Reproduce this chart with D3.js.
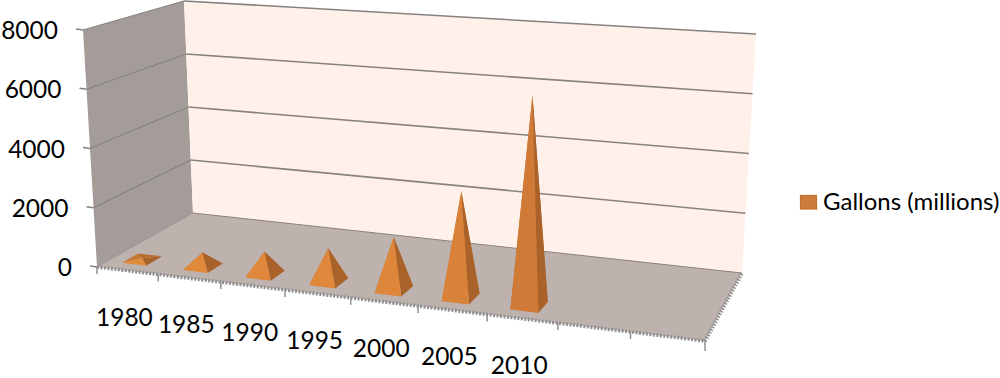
<!DOCTYPE html>
<html>
<head>
<meta charset="utf-8">
<script src="https://cdn.jsdelivr.net/npm/d3@7"></script>
<style>
  html, body { margin: 0; padding: 0; background: #fff; }
  text { font-family: Lato, "Open Sans", sans-serif; fill: #000; }
</style>
</head>
<body>
<svg id="chart" width="1000" height="378"></svg>
<script>
// ==== DATA ====
const years = ["1980", "1985", "1990", "1995", "2000", "2005", "2010"];
const gallons = [40, 480, 750, 1100, 1700, 3400, 6650];
const emptySlots = ["", " "];
const yTicks = [0, 2000, 4000, 6000, 8000];
const seriesName = "Gallons (millions)";

// ==== 3D BOX: corners of the picture, everything else is projected from them ====
const floorQuad = [[97, 267], [705, 341], [742, 273], [193, 213]];
const topQuad = [[83, 30], [715, 75], [756, 34], [184, 1]];

// square to quad homography
function quadMap(q) {
  const [[x0, y0], [x1, y1], [x2, y2], [x3, y3]] = q;
  const dx1 = x1 - x2, dx2 = x3 - x2, sx = x0 - x1 + x2 - x3;
  const dy1 = y1 - y2, dy2 = y3 - y2, sy = y0 - y1 + y2 - y3;
  const den = dx1 * dy2 - dx2 * dy1;
  const g = (sx * dy2 - dx2 * sy) / den;
  const h = (dx1 * sy - sx * dy1) / den;
  const a = x1 - x0 + g * x1, b = x3 - x0 + h * x3;
  const d = y1 - y0 + g * y1, e = y3 - y0 + h * y3;
  return (u, v) => {
    const w = g * u + h * v + 1;
    return [(a * u + b * v + x0) / w, (d * u + e * v + y0) / w];
  };
}

const floorAt = quadMap(floorQuad);
const upVectors = topQuad.map((p, i) => [p[0] - floorQuad[i][0], p[1] - floorQuad[i][1]]);

const uScale = d3.scaleBand().domain([...years, ...emptySlots]).range([0, 1])
  .paddingInner(0.6).paddingOuter(0.3).align(0.4);
const slotScale = d3.scaleBand().domain(uScale.domain()).range([0, 1]);
const hScale = d3.scaleLinear().domain([0, 8000]).range([0, 1]);
const frontColor = d3.scaleLinear().domain([0, 1700, 6650]).range(["#e08a3c", "#de863a", "#cf7a36"]);

// u along the front, d towards the back wall, h up
function project(u, d, h) {
  const a = floorAt(u, d);
  const up = [0, 1].map(k =>
    (1 - d) * ((1 - u) * upVectors[0][k] + u * upVectors[1][k]) +
    d * ((1 - u) * upVectors[3][k] + u * upVectors[2][k]));
  return [a[0] + up[0] * h, a[1] + up[1] * h];
}

const svg = d3.select("#chart");
const pts = arr => arr.map(p => p.join(",")).join(" ");
const line = d3.line();

// ==== WALLS ====
svg.append("polygon")
  .attr("points", pts([project(0, 0, 0), project(0, 1, 0), project(0, 1, 1), project(0, 0, 1)]))
  .attr("fill", "#a49c98");
svg.append("polygon")
  .attr("points", pts([project(0, 1, 0), project(1, 1, 0), project(1, 1, 1), project(0, 1, 1)]))
  .attr("fill", "#fff1ea");
svg.append("polygon")
  .attr("points", pts([project(0, 0, 0), project(1, 0, 0), project(1, 1, 0), project(0, 1, 0)]))
  .attr("fill", "#bdb2ae");

// ==== GRID ====
const gridColor = "#85827f";
yTicks.forEach(v => {
  const h = hScale(v);
  const a = project(0, 0, h), b = project(0, 1, h), c = project(1, 1, h);
  svg.append("path").attr("d", line([b, c]))
    .attr("fill", "none").attr("stroke", gridColor)
    .attr("stroke-width", v === 0 ? 1 : 1.6);
  svg.append("path").attr("d", line([a, b]))
    .attr("fill", "none").attr("stroke", gridColor)
    .attr("stroke-width", v === 0 ? 0.6 : 1.2);
  // tick on the left of the wall
  svg.append("line")
    .attr("x1", a[0] - 7).attr("y1", a[1] - 1).attr("x2", a[0]).attr("y2", a[1])
    .attr("stroke", gridColor).attr("stroke-width", 1.6);
  svg.append("text")
    .attr("x", a[0] - 25).attr("y", a[1] + 3)
    .attr("text-anchor", "end").attr("dominant-baseline", "middle")
    .attr("font-size", 24.5)
    .text(v);
});

// ==== FLOOR EDGES ====
svg.append("path").attr("d", line([project(0, 0, 0), project(1, 0, 0)]))
  .attr("fill", "none").attr("stroke", "#8f8f8f").attr("stroke-width", 3.5).attr("stroke-dasharray", "2 1.5");
svg.append("path").attr("d", line([project(1, 0, 0), project(1, 1, 0)]))
  .attr("fill", "none").attr("stroke", "#8f8f8f").attr("stroke-width", 4).attr("stroke-dasharray", "1.5 1.5");

[...slotScale.domain().map(c => slotScale(c)), 1].forEach(u => {
  const p = project(u, 0, 0);
  svg.append("line")
    .attr("x1", p[0]).attr("y1", p[1]).attr("x2", p[0]).attr("y2", p[1] + (u === 1 ? 10 : 7))
    .attr("stroke", "#8f8f8f").attr("stroke-width", 1.5);
});

// ==== CATEGORY LABELS ====
svg.selectAll("text.year").data(years).join("text")
  .attr("class", "year")
  .attr("x", d => project(slotScale(d) + slotScale.bandwidth() / 2, 0, 0)[0] - 3)
  .attr("y", d => project(slotScale(d) + slotScale.bandwidth() / 2, 0, 0)[1] + 49)
  .attr("text-anchor", "middle").attr("dominant-baseline", "middle")
  .attr("font-size", 24.5)
  .text(d => d);

// ==== PYRAMIDS ====
const depthLo = 0.1, depthHi = 0.26;
const faces = [
  { c: () => "#b86d2e", idx: [3, 2] },
  { c: () => "#c47631", idx: [0, 3] },
  { c: () => "#a9622a", idx: [1, 2] },
  { c: v => frontColor(v), idx: [0, 1] }
];

years.forEach((year, i) => {
  const u0 = uScale(year), u1 = u0 + uScale.bandwidth();
  const base = [
    project(u0, depthLo, 0), project(u1, depthLo, 0),
    project(u1, depthHi, 0), project(u0, depthHi, 0)
  ];
  const apex = project((u0 + u1) / 2, (depthLo + depthHi) / 2, hScale(gallons[i]));
  faces.forEach(f => {
    svg.append("polygon")
      .attr("points", pts([base[f.idx[0]], base[f.idx[1]], apex]))
      .attr("fill", f.c(gallons[i]));
  });
});

// ==== LEGEND ====
svg.append("rect")
  .attr("x", 800.5).attr("y", 195.5).attr("width", 16).attr("height", 13.5)
  .attr("fill", "#cc7d3c").attr("stroke", "#c2702d").attr("stroke-width", 1.2);
svg.append("text")
  .attr("x", 823).attr("y", 204)
  .attr("dominant-baseline", "middle")
  .attr("font-size", 24)
  .text(seriesName);
</script>
</body>
</html>
